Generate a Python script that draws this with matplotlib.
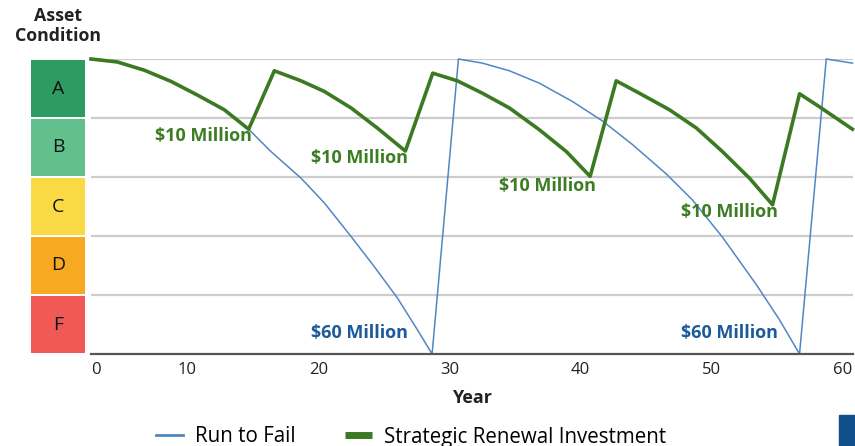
import matplotlib.pyplot as plt
from matplotlib.lines import Line2D
from matplotlib.patches import Rectangle

plt.rcParams['font.family'] = ['Open Sans', 'DejaVu Sans']

# condition score: 5 = top of A, 0 = bottom of F
grades = ['F', 'D', 'C', 'B', 'A']
grade_colors = ['#f05955', '#f8a922', '#f9da45', '#62c08c', '#2e9b62']

fail_years = [2.65, 4.66, 6.72, 8.76, 10.76, 12.82, 14.68, 16.39, 18.68, 20.46, 22.5,
              24.27, 26.03, 27.56, 28.68, 30.69, 32.52, 34.58, 36.87, 39.39, 41.68,
              43.97, 46.56, 48.55, 50.84, 53.44, 55.19, 56.72, 58.76, 60.76]
fail_cond = [5.0, 4.95, 4.81, 4.62, 4.39, 4.14, 3.81, 3.43, 2.98, 2.56, 1.99,
             1.48, 0.95, 0.41, 0.0, 5.0, 4.93, 4.8, 4.59, 4.28, 3.95,
             3.55, 3.05, 2.61, 1.98, 1.17, 0.58, 0.0, 5.0, 4.93]

renew_years = [2.65, 4.66, 6.72, 8.76, 10.76, 12.82, 14.68, 16.64, 18.68, 20.46, 22.5,
               24.5, 26.64, 28.73, 30.61, 32.52, 34.58, 36.87, 38.93, 40.74, 42.73,
               44.5, 46.79, 48.85, 50.84, 52.9, 54.66, 56.72, 58.24, 60.76]
renew_cond = [5.0, 4.95, 4.81, 4.62, 4.39, 4.14, 3.81, 4.8, 4.63, 4.45, 4.17,
              3.83, 3.44, 4.76, 4.63, 4.42, 4.17, 3.8, 3.43, 3.01, 4.63,
              4.42, 4.14, 3.83, 3.43, 2.98, 2.53, 4.41, 4.19, 3.81]

renew_labels = [(14.94, 3.69), (26.87, 3.32), (41.22, 2.84), (55.11, 2.41)]
fail_labels = [(26.87, 0.36), (55.11, 0.36)]

x_ticks = [2.65, 10, 20, 30, 40, 50, 60]
x_ticklabels = ['0', '10', '20', '30', '40', '50', '60']

W, H = 855, 446
fig = plt.figure(figsize=(W / 100, H / 100), dpi=100)
ax = fig.add_axes([91 / W, 1 - 354 / H, (853 - 91) / W, (354 - 59) / H])
gax = fig.add_axes([31 / W, 1 - 354 / H, (85 - 31) / W, (354 - 59) / H])

blue = '#4f87c6'
green = '#3b7a22'

for y in range(1, 6):
    ax.axhline(y, color='#cccccc', lw=1.6, zorder=0)

ax.plot(fail_years, fail_cond, color=blue, lw=1.1, clip_on=False, zorder=2)
ax.plot(renew_years, renew_cond, color=green, lw=2.6, clip_on=False, zorder=3)

for x, y in renew_labels:
    ax.text(x, y, '$10 Million', color='#3b7d23', fontsize=13, fontweight='bold',
            ha='right', va='center', zorder=4)
for x, y in fail_labels:
    ax.text(x, y, '$60 Million', color='#1d5a98', fontsize=13, fontweight='bold',
            ha='right', va='center', zorder=4)

ax.set_xlim(2.65, 60.8)
ax.set_ylim(0, 5)
ax.set_yticks([])
ax.set_xticks(x_ticks)
ax.set_xticklabels(x_ticklabels, fontsize=12, color='#222222')
ax.get_xticklabels()[0].set_ha('left')
ax.tick_params(axis='x', length=0, pad=6)
for s in ['top', 'left', 'right']:
    ax.spines[s].set_visible(False)
ax.spines['bottom'].set_color('#555555')
ax.spines['bottom'].set_linewidth(1.6)
ax.set_xlabel('Year', fontsize=13, fontweight='bold', labelpad=8, color='#222222')

# grade boxes
gax.barh([i + 0.5 for i in range(5)], [1] * 5, height=0.965, color=grade_colors)
for i, g in enumerate(grades):
    gax.text(0.5, i + 0.5, g, ha='center', va='center', fontsize=14, color='#111111')
gax.set_xlim(0, 1)
gax.set_ylim(0, 5)
gax.axis('off')

fig.text(58 / W, 1 - 26 / H, 'Asset\nCondition', ha='center', va='center',
         fontsize=12.8, fontweight='bold', linespacing=1.15, color='#222222')

handles = [Line2D([], [], color=blue, lw=2),
           Line2D([], [], color=green, lw=5, solid_capstyle='butt')]
fig.legend(handles, ['Run to Fail', 'Strategic Renewal Investment'], loc='center',
           bbox_to_anchor=(411 / W, 1 - 437 / H), ncol=2, frameon=False,
           fontsize=14.8, handlelength=1.3, columnspacing=2.4, handletextpad=0.6)

fig.patches.append(Rectangle((839 / W, 0), 16 / W, 31 / H, transform=fig.transFigure,
                             color='#0f4e88', zorder=5))

fig.savefig('out.png', dpi=100)
